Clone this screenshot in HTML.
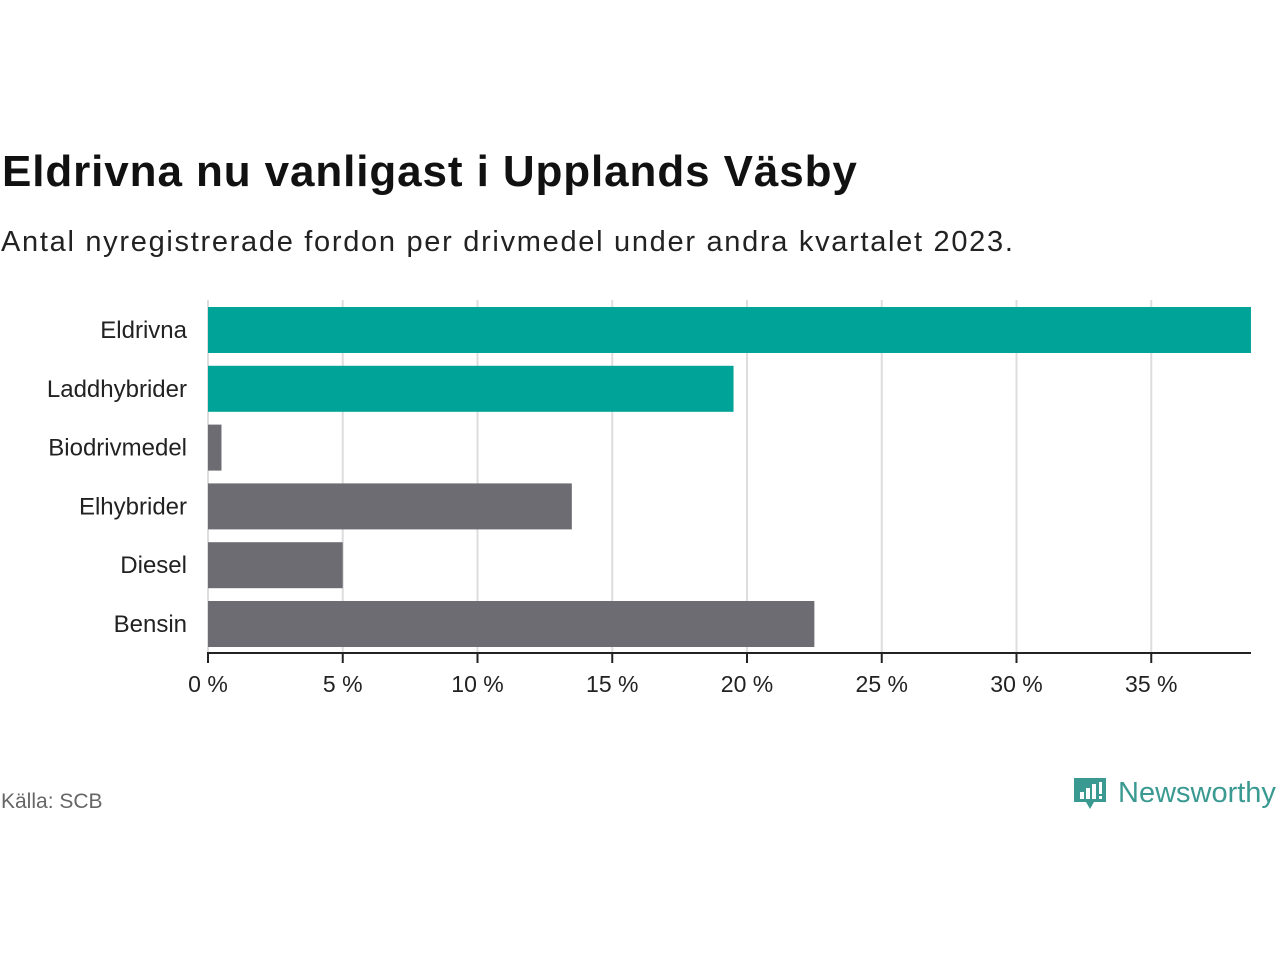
<!DOCTYPE html>
<html><head><meta charset="utf-8"><style>
body{margin:0;width:1280px;height:960px;background:#fff;font-family:"Liberation Sans",sans-serif;position:relative;overflow:hidden}
#title{position:absolute;left:2px;top:147px;font-size:44px;font-weight:bold;color:#111;letter-spacing:0.9px}
#sub{position:absolute;left:1px;top:226px;font-size:29px;color:#222;letter-spacing:1.7px}
#src{position:absolute;left:1px;top:790px;font-size:21px;color:#666}
#logo{position:absolute;left:1072px;top:774px}
</style></head><body>
<div id="title">Eldrivna nu vanligast i Upplands Väsby</div>
<div id="sub">Antal nyregistrerade fordon per drivmedel under andra kvartalet 2023.</div>
<svg id="chart" width="1280" height="960" style="position:absolute;left:0;top:0"></svg>
<div id="src">Källa: SCB</div>
<svg id="logo" width="210" height="44">
<path d="M2 4 h32 v24 h-12 l-4 7 l-4 -7 h-12 z" fill="#3a9a92"/>
<rect x="8" y="18" width="4" height="7" fill="#fff"/><rect x="14" y="14" width="4" height="11" fill="#fff"/><rect x="20" y="10" width="4" height="15" fill="#fff"/><rect x="27" y="8" width="3" height="12" fill="#fff"/><rect x="27" y="22" width="3" height="3" fill="#fff"/>
<text x="46" y="28" font-size="29" fill="#3a9a92" font-family="Liberation Sans,sans-serif">Newsworthy</text>
</svg>
<script>
const categories=["Eldrivna","Laddhybrider","Biodrivmedel","Elhybrider","Diesel","Bensin"];
const values=[38.7,19.5,0.5,13.5,5.0,22.5];
const colors=["#00a398","#00a398","#6d6c72","#6d6c72","#6d6c72","#6d6c72"];
const ticks=[0,5,10,15,20,25,30,35];
const NS="http://www.w3.org/2000/svg";
const svg=document.getElementById("chart");
const x0=208,pxPer=26.95,plotTop=301,step=58.8,bh=46;
const xs=v=>x0+v*pxPer;
const yb=i=>plotTop+6+i*step;
function mk(t,a){const e=document.createElementNS(NS,t);for(const k in a)e.setAttribute(k,a[k]);svg.appendChild(e);return e;}
ticks.forEach(t=>{
 const g=mk("line",{x1:xs(t),x2:xs(t),y1:300,y2:653,stroke:"#ddd","stroke-width":2});
 
 
 const tk=mk("line",{x1:xs(t),x2:xs(t),y1:653,y2:663,stroke:"#222","stroke-width":2});
 
 
 const l=mk("text",{x:xs(t),y:692,"text-anchor":"middle","font-size":23,fill:"#222"});
 l.textContent=t+" %";
 
 
});
categories.forEach((c,i)=>{
 const r=mk("rect",{x:x0,y:yb(i),width:xs(values[i])-x0,height:bh,fill:colors[i]});
 
 
 const l=mk("text",{x:187,y:yb(i)+bh/2+8,"text-anchor":"end","font-size":24,fill:"#222"});
 l.textContent=c;
 
 
});
const ax=mk("line",{x1:207,x2:1251,y1:653,y2:653,stroke:"#222","stroke-width":2});


</script>
</body></html>
